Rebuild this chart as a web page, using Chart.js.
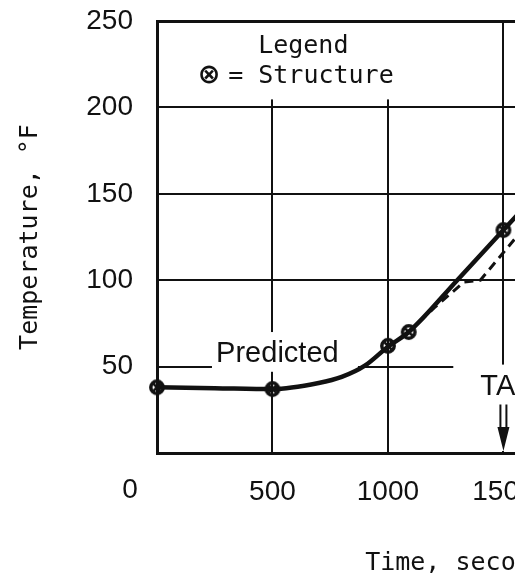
<!DOCTYPE html>
<html>
<head>
<meta charset="utf-8">
<script src="https://cdn.jsdelivr.net/npm/chart.js"></script>
<style>
  html, body { margin: 0; padding: 0; background: #fff; overflow: hidden; }
  canvas { display: block; }
</style>
</head>
<body>
<canvas id="Chart" width="800" height="584"></canvas>
<script>
// predicted temperature, seconds / deg F
const predTime = [0, 250, 500, 700, 800, 900, 1000, 1090, 1300, 1500, 1700];
const predTemp = [38, 37.5, 37, 40.5, 44, 50.5, 61.5, 70, 100, 129, 158];

// structure readings (circled x)
const structTime = [0, 500, 1000, 1090, 1500];
const structTemp = [38, 37, 62, 70, 129];

// dashed trace
const dashTime = [1090, 1200, 1330, 1400, 1500, 1600];
const dashTemp = [70, 84, 99, 100, 116, 132];

const xTicks = [0, 500, 1000, 1500, 2000, 2500];
const yTicks = [50, 100, 150, 200, 250];

const INK = '#111';
const SANS = 'Liberation Sans, Arial, sans-serif';
const MONO = 'DejaVu Sans Mono, monospace';

const pts = (xs, ys) => xs.map((t, i) => ({x: t, y: ys[i]}));

// circled-x marker
const mark = document.createElement('canvas');
mark.width = mark.height = 18;
const m = mark.getContext('2d');
m.strokeStyle = INK;
m.lineWidth = 3.5;
m.beginPath(); m.arc(9, 9, 6.2, 0, Math.PI * 2); m.stroke();
m.lineWidth = 2.5;
m.beginPath();
m.moveTo(5.5, 5.5); m.lineTo(12.5, 12.5);
m.moveTo(12.5, 5.5); m.lineTo(5.5, 12.5);
m.stroke();

// white-outs behind the labels, then the labels and the arrow
const notes = {
  id: 'notes',
  beforeDatasetsDraw(chart) {
    const {ctx, chartArea: a, scales: {x, y}} = chart;
    ctx.save();
    ctx.fillStyle = '#fff';
    // legend block
    ctx.fillRect(a.left + 2, a.top + 2, x.getPixelForValue(1500) - a.left - 4, y.getPixelForValue(200) - 8 - a.top - 2);
    // "Predicted"
    ctx.fillRect(x.getPixelForValue(238), y.getPixelForValue(70), x.getPixelForValue(870) - x.getPixelForValue(238), y.getPixelForValue(47) - y.getPixelForValue(70));
    // "TAB"
    ctx.fillRect(x.getPixelForValue(1283), y.getPixelForValue(50) - 2, a.right - x.getPixelForValue(1283), y.getPixelForValue(0) - 2 - y.getPixelForValue(50) + 2);

    ctx.fillStyle = INK;
    ctx.textBaseline = 'alphabetic';
    ctx.textAlign = 'left';
    ctx.font = '25px ' + MONO;
    ctx.fillText('Legend', x.getPixelForValue(438), y.getPixelForValue(231.5));
    ctx.fillText('= Structure', x.getPixelForValue(308), y.getPixelForValue(214));
    ctx.font = 'bold 27px DejaVu Sans, sans-serif';
    ctx.textAlign = 'center';
    ctx.fillText('\u2297', x.getPixelForValue(225), y.getPixelForValue(214));

    ctx.textAlign = 'left';
    ctx.font = '29px ' + SANS;
    ctx.fillText('Predicted', x.getPixelForValue(256), y.getPixelForValue(52.7));
    ctx.fillText('TAB', x.getPixelForValue(1400), y.getPixelForValue(33.6));

    // origin label shared by both axes
    ctx.font = '28px ' + SANS;
    ctx.textAlign = 'center';
    ctx.textBaseline = 'middle';
    ctx.fillText('0', x.getPixelForValue(0) - 27, y.getPixelForValue(0) + 37);

    // down arrow at 1500 s
    const ax = x.getPixelForValue(1500);
    ctx.strokeStyle = INK;
    ctx.lineWidth = 2;
    ctx.beginPath();
    ctx.moveTo(ax - 3, y.getPixelForValue(28)); ctx.lineTo(ax - 3, y.getPixelForValue(12));
    ctx.moveTo(ax + 3, y.getPixelForValue(28)); ctx.lineTo(ax + 3, y.getPixelForValue(12));
    ctx.stroke();
    ctx.beginPath();
    ctx.moveTo(ax - 6, y.getPixelForValue(15));
    ctx.lineTo(ax + 6, y.getPixelForValue(15));
    ctx.lineTo(ax, y.getPixelForValue(0) - 2);
    ctx.closePath();
    ctx.fill();
    ctx.restore();
  }
};

const canvas = document.getElementById('Chart');
const ctx = canvas.getContext('2d');

new Chart(ctx, {
  type: 'line',
  data: {
    datasets: [{
      label: 'Predicted',
      data: pts(predTime, predTemp),
      borderColor: INK,
      borderWidth: 4.5,
      cubicInterpolationMode: 'monotone',
      pointRadius: 0
    }, {
      label: 'Dashed',
      data: pts(dashTime, dashTemp),
      borderColor: INK,
      borderWidth: 3,
      borderDash: [9, 6],
      tension: 0,
      pointRadius: 0
    }, {
      label: 'Structure',
      data: pts(structTime, structTemp),
      showLine: false,
      pointStyle: mark,
      clip: false
    }]
  },
  options: {
    responsive: false,
    animation: false,
    layout: { padding: { top: 21, right: 31, left: 0, bottom: 0 } },
    plugins: { legend: { display: false }, tooltip: { enabled: false } },
    scales: {
      x: {
        type: 'linear',
        min: 0,
        max: 2650,
        afterBuildTicks: s => { s.ticks = xTicks.map(v => ({value: v})); },
        afterFit: s => { s.height = 131; s.paddingLeft = 0; s.paddingRight = 0; },
        grid: { color: INK, lineWidth: 2, drawTicks: false },
        border: { color: INK, width: 3 },
        ticks: {
          color: INK,
          padding: 22,
          maxRotation: 0,
          font: { family: SANS, size: 28 },
          callback: v => v === 0 ? '' : v
        },
        title: {
          display: true,
          text: 'Time, seconds',
          color: INK,
          font: { family: MONO, size: 25 },
          padding: { top: 0, bottom: 6 }
        }
      },
      y: {
        min: 0,
        max: 250,
        afterBuildTicks: s => { s.ticks = yTicks.map(v => ({value: v})); },
        afterFit: s => { s.width = 157; s.paddingTop = 0; s.paddingBottom = 0; },
        grid: { color: INK, lineWidth: c => c.tick && c.tick.value === 250 ? 3 : 2, drawTicks: false },
        border: { color: INK, width: 3 },
        ticks: {
          color: INK,
          padding: 24,
          font: { family: SANS, size: 28 }
        },
        title: {
          display: true,
          text: 'Temperature, \u00B0F',
          color: INK,
          font: { family: MONO, size: 25 },
          padding: { top: 15, bottom: 0 }
        }
      }
    }
  },
  plugins: [notes]
});
</script>
</body>
</html>
